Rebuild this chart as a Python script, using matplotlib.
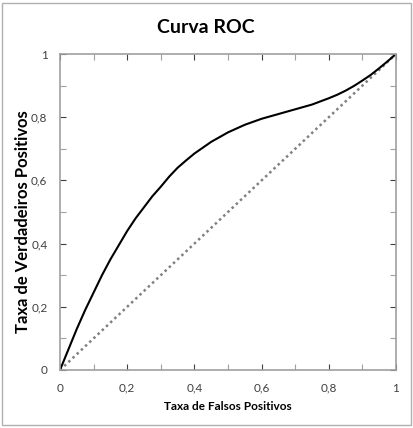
import matplotlib.pyplot as plt
from matplotlib.patches import Rectangle
import numpy as np

# ROC curve points
fpr = [0.0, 0.025, 0.05, 0.075, 0.1, 0.125, 0.15, 0.175, 0.2, 0.225, 0.25, 0.275,
       0.3, 0.325, 0.35, 0.375, 0.4, 0.45, 0.5, 0.55, 0.6, 0.65, 0.7, 0.75, 0.8,
       0.825, 0.85, 0.875, 0.9, 0.925, 0.95, 0.975, 1.0]
tpr = [0.0, 0.065, 0.13, 0.19, 0.245, 0.30, 0.35, 0.395, 0.44, 0.48, 0.515, 0.55,
       0.58, 0.612, 0.64, 0.663, 0.685, 0.722, 0.752, 0.776, 0.795, 0.81, 0.825,
       0.84, 0.86, 0.871, 0.884, 0.899, 0.916, 0.934, 0.955, 0.977, 1.0]
diag = [0.0, 1.0]

ticks = [0, 0.2, 0.4, 0.6, 0.8, 1]
tick_labels = ["0", "0,2", "0,4", "0,6", "0,8", "1"]

plt.rcParams['font.family'] = ['Lato', 'DejaVu Sans']

fig = plt.figure(figsize=(4.14, 4.28), dpi=100)
ax = fig.add_axes([60 / 414, 58 / 428, 336 / 414, 316 / 428])

ax.plot(diag, diag, color='#808080', linestyle=(0, (1, 1.3)), linewidth=1.8)
ax.plot(fpr, tpr, color='black', linewidth=1.5)

ax.set_xlim(0, 1)
ax.set_ylim(0, 1)
ax.set_xticks(ticks)
ax.set_xticklabels(tick_labels)
ax.set_yticks(ticks)
ax.set_yticklabels(tick_labels)
ax.set_xticks(np.arange(0.1, 1.0, 0.2), minor=True)
ax.set_yticks(np.arange(0.1, 1.0, 0.2), minor=True)
ax.tick_params(which='both', direction='in', top=True, right=True, length=4,
               color='#a0a0a0', width=0.8)
ax.tick_params(which='major', labelsize=8.5, colors='#404040', pad=9)
for s in ax.spines.values():
    s.set_color('#a0a0a0')
    s.set_linewidth(1.2)

ax.set_xlabel("Taxa de Falsos Positivos", fontsize=8.5, fontweight='bold', va='center')
ax.xaxis.set_label_coords(0.5, -0.114)
ax.set_ylabel("Taxa de Verdadeiros Positivos", fontsize=12, fontweight='bold', va='center')
ax.yaxis.set_label_coords(-0.11, 0.47)
fig.text(0.497, 0.9346, "Curva ROC", ha='center', va='center', fontsize=14, fontweight='bold')

fig.patches.append(Rectangle((2 / 414, 3 / 428), 409 / 414, 422 / 428, transform=fig.transFigure,
                             fill=False, edgecolor='#b0b0b0', linewidth=1))

plt.savefig("out.png", dpi=100)
